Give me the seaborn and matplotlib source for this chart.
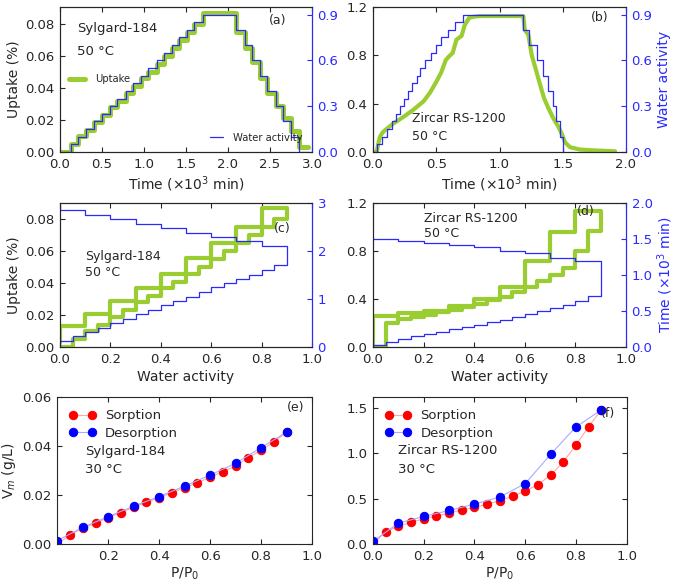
import matplotlib
matplotlib.use('Agg')
import matplotlib.pyplot as plt
import seaborn as sns

# Sylgard-184, 50 C  (panels a and c): one entry per water-activity level, last entry = end of run
syl_time = [0.00, 0.13, 0.22, 0.31, 0.40, 0.50, 0.59, 0.68, 0.78, 0.87, 0.96,
            1.05, 1.15, 1.24, 1.33, 1.42, 1.51, 1.60, 1.70,
            2.10, 2.20, 2.29, 2.38, 2.47, 2.57, 2.66, 2.75, 2.85, 2.95]
syl_aw = [0.00, 0.05, 0.10, 0.15, 0.20, 0.25, 0.30, 0.35, 0.40, 0.45, 0.50,
          0.55, 0.60, 0.65, 0.70, 0.75, 0.80, 0.85, 0.90,
          0.80, 0.70, 0.60, 0.50, 0.40, 0.30, 0.20, 0.10, 0.00, 0.00]
syl_uptake = [0.000, 0.005, 0.010, 0.014, 0.019, 0.023, 0.028, 0.032, 0.037, 0.041, 0.046,
              0.050, 0.055, 0.060, 0.065, 0.070, 0.075, 0.080, 0.087,
              0.075, 0.065, 0.056, 0.046, 0.037, 0.029, 0.021, 0.013, 0.003, 0.003]

# Zircar RS-1200, 50 C (panels b and d)
zir_time = [0.000, 0.035, 0.075, 0.110, 0.150, 0.180, 0.215, 0.245, 0.280, 0.310, 0.345,
            0.375, 0.410, 0.455, 0.500, 0.540, 0.590, 0.645, 0.710,
            1.188, 1.236, 1.300, 1.340, 1.386, 1.420, 1.447, 1.478, 1.500, 1.510]
zir_aw = syl_aw
zir_uptake_loop = [0.00, 0.20, 0.23, 0.25, 0.27, 0.29, 0.31, 0.33, 0.36, 0.39, 0.42,
                   0.46, 0.50, 0.55, 0.60, 0.66, 0.80, 0.97, 1.13,
                   0.96, 0.72, 0.50, 0.40, 0.34, 0.30, 0.28, 0.26, 0.00, 0.00]
zir_uptake_t = [0.000, 0.030, 0.040, 0.055, 0.075, 0.095, 0.160, 0.240, 0.320, 0.400, 0.450,
                0.500, 0.540, 0.575, 0.600, 0.630, 0.660, 0.700, 0.725, 0.760, 0.800, 0.850,
                1.000, 1.188, 1.200, 1.228, 1.255, 1.280, 1.320, 1.352, 1.386, 1.425, 1.465,
                1.490, 1.518, 1.557, 1.636, 1.770, 1.913]
zir_uptake = [0.000, 0.000, 0.060, 0.125, 0.160, 0.180, 0.235, 0.290, 0.350, 0.420, 0.490,
              0.580, 0.660, 0.760, 0.790, 0.820, 0.930, 0.960, 1.050, 1.110, 1.120, 1.125,
              1.125, 1.125, 1.010, 0.970, 0.800, 0.710, 0.560, 0.446, 0.363, 0.280, 0.210,
              0.155, 0.080, 0.040, 0.020, 0.012, 0.006]

# isotherms at 30 C (panels e and f)
pp_sorp = [0.00, 0.05, 0.10, 0.15, 0.20, 0.25, 0.30, 0.35, 0.40, 0.45, 0.50,
           0.55, 0.60, 0.65, 0.70, 0.75, 0.80, 0.85, 0.90]
pp_desorp = [0.0, 0.1, 0.2, 0.3, 0.4, 0.5, 0.6, 0.7, 0.8, 0.9]
syl_vm_sorp = [0.0000, 0.0037, 0.0064, 0.0085, 0.0108, 0.0128, 0.0150, 0.0170, 0.0189, 0.0210,
               0.0230, 0.0251, 0.0273, 0.0296, 0.0319, 0.0353, 0.0384, 0.0417, 0.0457]
syl_vm_desorp = [0.0014, 0.0068, 0.0112, 0.0155, 0.0194, 0.0237, 0.0282, 0.0330, 0.0394, 0.0457]
zir_vm_sorp = [0.000, 0.137, 0.196, 0.240, 0.278, 0.311, 0.341, 0.378, 0.404, 0.440,
               0.478, 0.526, 0.585, 0.656, 0.759, 0.907, 1.093, 1.296, 1.480]
zir_vm_desorp = [0.030, 0.230, 0.304, 0.370, 0.440, 0.519, 0.667, 0.989, 1.293, 1.480]

GREEN = '#9acd32'
BLUE = '#2a2aff'
TFS = 9.5   # tick labels
LFS = 10    # axis labels
time_lbl = r'Time ($\times$10$^3$ min)'
green_kw = dict(color=GREEN, sort=False, estimator=None,
                solid_joinstyle='round', solid_capstyle='round')

sns.set_style('ticks')
plt.rcParams['font.family'] = ['DejaVu Sans']
plt.rcParams['mathtext.fontset'] = 'dejavusans'

fig = plt.figure(figsize=(6.75, 5.85), dpi=100)


def style(ax, right=True):
    ax.tick_params(direction='in', length=3.5, labelsize=TFS, top=True, right=right,
                   width=0.8, pad=4)
    for s in ax.spines.values():
        s.set_linewidth(0.8)


def twin(ax):
    ax2 = ax.twinx()
    ax2.tick_params(direction='in', length=3.5, labelsize=TFS, colors=BLUE, width=0.8, pad=4)
    ax2.spines['right'].set_color(BLUE)
    ax2.spines['right'].set_linewidth(0.8)
    return ax2


def note(ax, x, y, s, size=9):
    ax.text(x, y, s, transform=ax.transAxes, fontsize=size, va='center', ha='left')


# (a)
ax = fig.add_axes([0.0889, 0.7402, 0.3733, 0.2479])
sns.lineplot(x=syl_time, y=syl_uptake, ax=ax, lw=3.6, drawstyle='steps-post',
             label='Uptake', **green_kw)
ax.set_xlim(0, 3)
ax.set_ylim(0, 0.0906)
ax.set_yticks([0, 0.02, 0.04, 0.06, 0.08])
ax.set_xticks([0, 0.5, 1, 1.5, 2, 2.5, 3])
ax.set_xlabel(time_lbl, fontsize=LFS, labelpad=3)
ax.set_ylabel('Uptake (%)', fontsize=LFS, labelpad=3)
style(ax, right=False)
ax.legend(loc='center left', bbox_to_anchor=(0.0, 0.5), frameon=False, fontsize=7.2,
          handlelength=1.6, handletextpad=1.0)
ax2 = twin(ax)
sns.lineplot(x=syl_time, y=syl_aw, ax=ax2, color=BLUE, lw=0.9, sort=False,
             estimator=None, drawstyle='steps-post', label='Water activity')
ax2.set_ylim(0, 0.95)
ax2.set_yticks([0, 0.3, 0.6, 0.9])
ax2.set_ylabel('')
ax2.legend(loc='lower right', bbox_to_anchor=(1.0, 0.0), frameon=False, fontsize=7.2,
           handlelength=1.3, handletextpad=1.0)
note(ax, 0.066, 0.85, 'Sylgard-184', size=9.5)
note(ax, 0.066, 0.69, '50 °C', size=9.5)
note(ax, 0.83, 0.905, '(a)')

# (b)
ax = fig.add_axes([0.5526, 0.7402, 0.3748, 0.2479])
sns.lineplot(x=zir_uptake_t, y=zir_uptake, ax=ax, lw=3.0, **green_kw)
ax.set_xlim(0, 2)
ax.set_ylim(0, 1.2)
ax.set_yticks([0, 0.4, 0.8, 1.2])
ax.set_xticks([0, 0.5, 1, 1.5, 2])
ax.set_xlabel(time_lbl, fontsize=LFS, labelpad=3)
style(ax, right=False)
ax2 = twin(ax)
sns.lineplot(x=zir_time, y=zir_aw, ax=ax2, color=BLUE, lw=0.9, sort=False,
             estimator=None, drawstyle='steps-post')
ax2.set_ylim(0, 0.95)
ax2.set_yticks([0, 0.3, 0.6, 0.9])
ax2.set_ylabel('Water activity', fontsize=LFS, color=BLUE, labelpad=3)
note(ax, 0.153, 0.23, 'Zircar RS-1200')
note(ax, 0.153, 0.105, '50 °C')
note(ax, 0.86, 0.93, '(b)')

# (c)
ax = fig.add_axes([0.0889, 0.4068, 0.3733, 0.2462])
sns.lineplot(x=syl_aw, y=syl_uptake, ax=ax, lw=3.0, drawstyle='steps-post', **green_kw)
ax.set_xlim(0, 1)
ax.set_ylim(0, 0.0903)
ax.set_yticks([0, 0.02, 0.04, 0.06, 0.08])
ax.set_xlabel('Water activity', fontsize=LFS, labelpad=3)
ax.set_ylabel('Uptake (%)', fontsize=LFS, labelpad=3)
style(ax, right=False)
ax2 = twin(ax)
sns.lineplot(x=syl_aw, y=syl_time, ax=ax2, color=BLUE, lw=0.9, sort=False,
             estimator=None, drawstyle='steps-pre')
ax2.set_ylim(0, 3)
ax2.set_yticks([0, 1, 2, 3])
ax2.set_ylabel('')
note(ax, 0.10, 0.63, 'Sylgard-184')
note(ax, 0.10, 0.52, '50 °C')
note(ax, 0.85, 0.82, '(c)')

# (d)
ax = fig.add_axes([0.5526, 0.4068, 0.3748, 0.2462])
sns.lineplot(x=zir_aw, y=zir_uptake_loop, ax=ax, lw=3.0, drawstyle='steps-post', **green_kw)
ax.set_xlim(0, 1)
ax.set_ylim(0, 1.2)
ax.set_yticks([0, 0.4, 0.8, 1.2])
ax.set_xlabel('Water activity', fontsize=LFS, labelpad=3)
style(ax, right=False)
ax2 = twin(ax)
sns.lineplot(x=zir_aw, y=zir_time, ax=ax2, color=BLUE, lw=0.9, sort=False,
             estimator=None, drawstyle='steps-pre')
ax2.set_ylim(0, 2)
ax2.set_yticks([0, 0.5, 1, 1.5, 2])
ax2.set_ylabel(time_lbl, fontsize=LFS, color=BLUE, labelpad=2)
note(ax, 0.20, 0.89, 'Zircar RS-1200')
note(ax, 0.20, 0.79, '50 °C')
note(ax, 0.805, 0.94, '(d)')


def isotherm(ax, ys, yd):
    sns.lineplot(x=pp_sorp, y=ys, ax=ax, color='#ffaaaa', lw=0.8, marker='o', markersize=6,
                 markerfacecolor='red', markeredgecolor='red', sort=False, estimator=None,
                 label='Sorption')
    sns.lineplot(x=pp_desorp, y=yd, ax=ax, color='#aaaaff', lw=0.8, marker='o', markersize=6,
                 markerfacecolor='blue', markeredgecolor='blue', sort=False, estimator=None,
                 label='Desorption')
    ax.legend(loc='upper left', bbox_to_anchor=(0.0, 1.0), frameon=False, fontsize=9.5,
              numpoints=2, handlelength=2.0, handletextpad=0.7, labelspacing=0.35)
    ax.set_xlim(0, 1)
    ax.set_xlabel('P/P$_0$', fontsize=LFS, labelpad=2)
    style(ax)


# (e)
ax = fig.add_axes([0.0849, 0.0701, 0.3773, 0.2508])
isotherm(ax, syl_vm_sorp, syl_vm_desorp)
ax.set_ylim(0, 0.06)
ax.set_yticks([0, 0.02, 0.04, 0.06])
ax.set_xticks([0.2, 0.4, 0.6, 0.8, 1.0])
ax.set_ylabel('V$_m$ (g/L)', fontsize=LFS, labelpad=3)
note(ax, 0.11, 0.63, 'Sylgard-184', size=9.5)
note(ax, 0.11, 0.51, '30 °C', size=9.5)
note(ax, 0.90, 0.93, '(e)')

# (f)
ax = fig.add_axes([0.5526, 0.0701, 0.3758, 0.2508])
isotherm(ax, zir_vm_sorp, zir_vm_desorp)
ax.set_ylim(0, 1.62)
ax.set_yticks([0, 0.5, 1.0, 1.5])
ax.set_xticks([0, 0.2, 0.4, 0.6, 0.8, 1.0])
note(ax, 0.10, 0.64, 'Zircar RS-1200', size=9.5)
note(ax, 0.10, 0.51, '30 °C', size=9.5)
note(ax, 0.90, 0.89, '(f)')

fig.savefig('out.png', dpi=100)
